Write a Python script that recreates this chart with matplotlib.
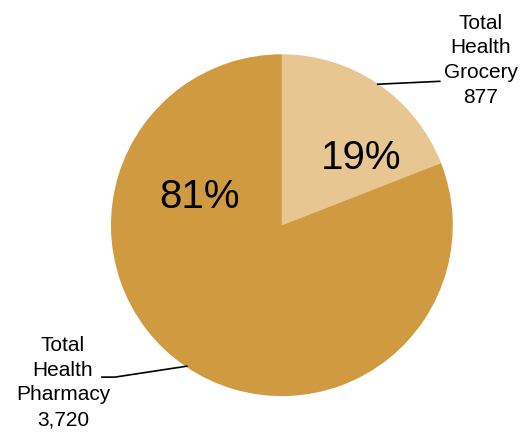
import matplotlib.pyplot as plt

# データ
labels = ["Total\nHealth\nGrocery", "Total\nHealth\nPharmacy"]
values = [877, 3720]
colors = ["#E8C692", "#CF9A40"]

plt.rcParams['font.family'] = ['Liberation Sans', 'DejaVu Sans']

fig = plt.figure(figsize=(5.21, 4.35), dpi=100)
ax = fig.add_axes([0.213, 0.087, 0.656, 0.786])

total = sum(values)
ax.pie(values, colors=colors, startangle=90, counterclock=False,
       wedgeprops=dict(linewidth=0))
ax.set_xlim(-1, 1)
ax.set_ylim(-1, 1)
ax.set_aspect('equal')
ax.axis('off')

pct = [f"{round(v / total * 100)}%" for v in values]

# パーセント表示
ax.text(0.462, 0.398, pct[0], fontsize=29, ha='center', va='center')
ax.text(-0.48, 0.17, pct[1], fontsize=29, ha='center', va='center')

# ラベル
ax.text(1.165, 0.972, f"{labels[0]}\n{values[0]:,}", fontsize=15,
        ha='center', va='center', linespacing=1.38)
ax.text(-1.281, -0.915, f"{labels[1]}\n{values[1]:,}", fontsize=15,
        ha='center', va='center', linespacing=1.38)

# 引き出し線
ax.plot([0.561, 0.924], [0.825, 0.842], color='black', lw=1.2, clip_on=False)
ax.plot([-1.053, -0.977, -0.556], [-0.889, -0.889, -0.825],
        color='black', lw=1.2, clip_on=False)

fig.savefig("out.png", dpi=100)
